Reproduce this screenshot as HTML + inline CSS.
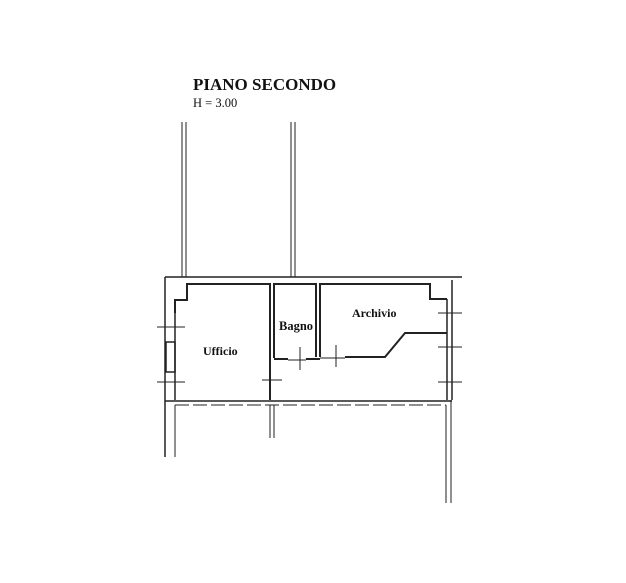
<!DOCTYPE html>
<html><head><meta charset="utf-8"><style>
html,body{margin:0;padding:0;background:#fff;width:626px;height:583px;overflow:hidden}
svg{display:block}
text{font-family:"Liberation Serif",serif;fill:#111}
</style></head><body>
<svg width="626" height="583" viewBox="0 0 626 583" xmlns="http://www.w3.org/2000/svg">
<text x="193" y="90" font-size="17" font-weight="bold">PIANO SECONDO</text>
<text x="193" y="107" font-size="12.5">H = 3.00</text>
<g stroke="#222" fill="none" stroke-width="1">
<line x1="182" y1="122" x2="182" y2="277"/><line x1="186" y1="122" x2="186" y2="277"/>
<line x1="291" y1="122" x2="291" y2="277"/><line x1="295" y1="122" x2="295" y2="277"/>
<line x1="165" y1="277" x2="462" y2="277" stroke-width="1.5"/>
<line x1="165" y1="277" x2="165" y2="310" stroke-width="1.5"/>
<polyline points="175,313 175,300 187,300 187,284 270,284 270,400" stroke-width="2"/>
<line x1="175" y1="313" x2="175" y2="400" stroke-width="1.5"/>
<line x1="165" y1="310" x2="165" y2="400" stroke-width="1.5"/>
<rect x="166" y="342" width="9" height="30" stroke-width="1.5"/>
<polyline points="274,358 274,284 316,284 316,357" stroke-width="2"/>
<line x1="274" y1="359" x2="288" y2="359" stroke-width="2"/>
<line x1="288" y1="360" x2="306" y2="360"/>
<line x1="306" y1="359" x2="320" y2="359" stroke-width="2"/>
<line x1="320" y1="358" x2="345" y2="358"/>
<polyline points="320,357 320,284 430,284 430,299 447,299" stroke-width="2"/>
<polyline points="345,357 385,357 405,333 447,333" stroke-width="2"/>
<line x1="447" y1="299" x2="447" y2="400" stroke-width="1.5"/>
<line x1="452" y1="280" x2="452" y2="400" stroke-width="1.5"/>
<line x1="165" y1="401" x2="452" y2="401" stroke-width="1.5"/>
<line x1="175" y1="405" x2="446" y2="405" stroke-dasharray="14,4"/>
<line x1="165" y1="400" x2="165" y2="457" stroke-width="1.5"/>
<line x1="175" y1="405" x2="175" y2="457"/>
<line x1="270" y1="405" x2="270" y2="438"/><line x1="274" y1="405" x2="274" y2="438"/>
<line x1="446" y1="405" x2="446" y2="503"/><line x1="451" y1="400" x2="451" y2="503"/>
<line x1="157" y1="327" x2="185" y2="327"/><line x1="157" y1="382" x2="185" y2="382"/>
<line x1="300" y1="347" x2="300" y2="370"/><line x1="336" y1="345" x2="336" y2="367"/>
<line x1="262" y1="380" x2="282" y2="380"/>
<line x1="438" y1="313" x2="462" y2="313"/><line x1="438" y1="347" x2="462" y2="347"/><line x1="438" y1="382" x2="462" y2="382"/>
</g>
<text x="352" y="317" font-size="12" font-weight="bold">Archivio</text>
<text x="279" y="330" font-size="12.5" font-weight="bold">Bagno</text>
<text x="203" y="355" font-size="12" font-weight="bold">Ufficio</text>
</svg>
</body></html>
